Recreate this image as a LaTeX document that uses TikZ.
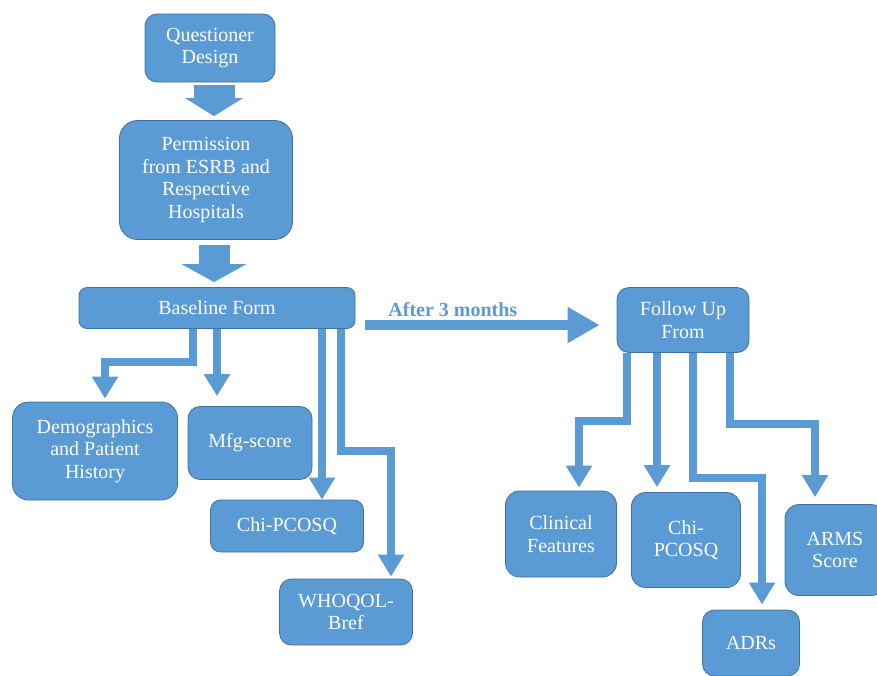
\documentclass[tikz,border=0pt]{standalone}
\usepackage{fontspec}
\setmainfont{Liberation Serif}
\usetikzlibrary{arrows.meta}

\definecolor{boxblue}{HTML}{5B9BD5}
\definecolor{boxedge}{HTML}{41719C}

\tikzset{
    box/.style={rounded corners=12pt, fill=boxblue, draw=boxedge, line width=0.8pt,
        text=white, align=center, inner sep=0pt, font=\fontsize{20}{22.5}\selectfont},
    flow/.style={draw=boxblue, line width=8pt, -{Triangle[width=25pt, length=22pt]}},
    bigflow/.style={draw=boxblue, line width=10pt, -{Triangle[width=34pt, length=32pt]}},
    blockflow/.style={draw=boxblue, -{Triangle[width=#1, length=18pt]}},
    lbl/.style={text=boxblue, font=\fontsize{20}{22.5}\selectfont\bfseries, inner sep=0pt}
}

\begin{document}
\begin{tikzpicture}[x=1pt, y=-1pt]
    \clip (0,0) rectangle (877,675);

    % Boxes of the study set-up
    \node[box, minimum width=130pt, minimum height=68pt] (q) at (210,48) {Questioner\\Design};
    \node[box, rounded corners=18pt, minimum width=173pt, minimum height=119pt] (p) at (206,180)
        {Permission\\from ESRB and\\Respective\\Hospitals};
    \node[box, rounded corners=8pt, minimum width=276pt, minimum height=41pt] (b) at (217,308) {Baseline Form};

    % Baseline items
    \node[box, rounded corners=16pt, minimum width=165pt, minimum height=98pt] (d) at (95,451)
        {Demographics\\and Patient\\History};
    \node[box, minimum width=124pt, minimum height=73pt] (m) at (250,443) {Mfg-score};
    \node[box, rounded corners=10pt, minimum width=153pt, minimum height=52pt] (c1) at (287,526) {Chi-PCOSQ};
    \node[box, minimum width=133pt, minimum height=66pt] (w) at (346,612) {WHOQOL-\\Bref};

    % Follow up items
    \node[box, minimum width=132pt, minimum height=65pt] (f) at (683,320) {Follow Up\\From};
    \node[box, rounded corners=14pt, minimum width=111pt, minimum height=86pt] (cf) at (561,534) {Clinical\\Features};
    \node[box, rounded corners=14pt, minimum width=109pt, minimum height=95pt] (c2) at (686,540) {Chi-\\PCOSQ};
    \node[box, minimum width=97pt, minimum height=66pt] (a) at (751,643) {ADRs};
    \node[box, rounded corners=14pt, minimum width=100pt, minimum height=91pt] (r) at (835,550) {ARMS\\Score};

    % Block arrows
    \draw[blockflow=57pt, line width=41pt, shorten <=3pt, shorten >=4pt]
        ([xshift=4pt]q.south) -- ([xshift=4pt]q.south |- p.north);
    \coordinate (p1) at ([xshift=8pt]p.south);
    \draw[blockflow=64pt, line width=31pt, shorten <=5pt, shorten >=5pt] (p1) -- (p1 |- b.north);

    % Outlets of the baseline form
    \coordinate (b1) at ([xshift=-24pt]b.south);
    \coordinate (b2) at (b.south);
    \coordinate (b3) at ([xshift=105pt]b.south);
    \coordinate (b4) at ([xshift=124pt]b.south);

    \draw[flow] (b1) -- ++(0,33) -| ([xshift=10pt, yshift=3pt]d.north);
    \draw[flow, shorten >=10pt] (b2) -- (b2 |- m.north);
    \draw[flow] (b3) -- (b3 |- c1.north);
    \draw[flow] (b4) -- ++(0,122) -| ([xshift=45pt, yshift=2pt]w.north);

    % After 3 months
    \coordinate (h1) at ([xshift=10pt, yshift=-17pt]b.east);
    \draw[bigflow, shorten >=17pt] (h1) -- (h1 -| f.west)
        node[lbl, pos=0, anchor=base west, xshift=18pt, yshift=9pt] {After 3 months};

    % Outlets of the follow up form
    \coordinate (f1) at ([xshift=-56pt]f.south);
    \coordinate (f2) at ([xshift=-26pt]f.south);
    \coordinate (f3) at ([xshift=10pt]f.south);
    \coordinate (f4) at ([xshift=47pt]f.south);

    \draw[flow] (f1) -- ++(0,68) -| ([xshift=18pt, yshift=3pt]cf.north);
    \draw[flow, shorten >=5pt] (f2) -- (f2 |- c2.north);
    \draw[flow] (f3) -- ++(0,125) -| ([xshift=11pt, yshift=5pt]a.north);
    \draw[flow] (f4) -- ++(0,71) -| ([xshift=-20pt, yshift=7pt]r.north);
\end{tikzpicture}
\end{document}
